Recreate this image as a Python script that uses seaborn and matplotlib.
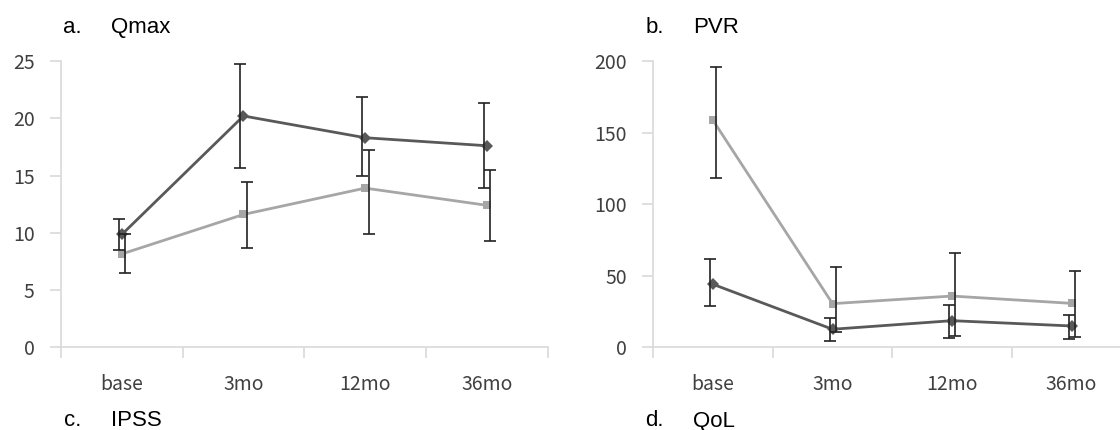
import numpy as np
import pandas as pd
import matplotlib
matplotlib.use("Agg")
import matplotlib.pyplot as plt
import seaborn as sns

# values (mean, minus error, plus error)
timepoints = ["base", "3mo", "12mo", "36mo"]

qmax_dark = [9.85, 20.2, 18.3, 17.6]
qmax_dark_lo = [1.35, 4.55, 3.3, 3.7]
qmax_dark_hi = [1.35, 4.55, 3.6, 3.7]
qmax_gray = [8.15, 11.6, 13.9, 12.4]
qmax_gray_lo = [1.65, 2.95, 4.0, 3.1]
qmax_gray_hi = [1.7, 2.85, 3.35, 3.1]

pvr_dark = [44.0, 12.6, 18.6, 14.9]
pvr_dark_lo = [15.1, 8.0, 11.9, 9.1]
pvr_dark_hi = [17.7, 7.7, 10.9, 7.7]
pvr_gray = [158.5, 30.5, 35.8, 30.7]
pvr_gray_lo = [40.5, 19.6, 27.9, 23.7]
pvr_gray_hi = [37.1, 25.8, 30.2, 22.6]

DARK = "#595959"
LIGHT = "#a6a6a6"
ERR = "#222222"
AXIS = "#d9d9d9"
TXT = "#404040"

sns.set_theme(style="white")
plt.rcParams["font.family"] = ["Noto Sans CJK KR", "DejaVu Sans"]

W, H = 1120, 430
fig = plt.figure(figsize=(W / 100, H / 100), dpi=100)


def px_axes(left, top, right, bottom):
    return fig.add_axes([left / W, (H - bottom) / H, (right - left) / W, (bottom - top) / H])


def draw_panel(ax, dark, dark_lo, dark_hi, gray, gray_lo, gray_hi, ymax, ystep):
    x = np.arange(len(timepoints))
    df = pd.DataFrame({
        "x": np.concatenate([x, x]),
        "value": dark + gray,
        "group": ["dark"] * len(x) + ["gray"] * len(x),
    })
    sns.lineplot(data=df, x="x", y="value", hue="group", style="group",
                 hue_order=["gray", "dark"], style_order=["gray", "dark"],
                 palette={"dark": DARK, "gray": LIGHT},
                 markers={"dark": "D", "gray": "s"}, dashes=False,
                 linewidth=2, markersize=6, markeredgewidth=0,
                 legend=False, ax=ax)
    ax.errorbar(x + 0.028, gray, yerr=[gray_lo, gray_hi], fmt="none",
                ecolor=ERR, elinewidth=1.2, capsize=4.5, capthick=1.2)
    ax.errorbar(x - 0.025, dark, yerr=[dark_lo, dark_hi], fmt="none",
                ecolor=ERR, elinewidth=1.2, capsize=4.5, capthick=1.2)

    ax.set_xlim(-0.5, len(x) - 0.5)
    ax.set_ylim(0, ymax)
    ax.set_yticks(np.arange(0, ymax + 1, ystep))
    ax.set_xticks(np.arange(-0.5, len(x)), labels=[""] * (len(x) + 1))
    ax.set_xticks(x, labels=timepoints, minor=True)
    ax.set_xlabel("")
    ax.set_ylabel("")

    for s in ["top", "right"]:
        ax.spines[s].set_visible(False)
    for s in ["left", "bottom"]:
        ax.spines[s].set_color(AXIS)
        ax.spines[s].set_linewidth(1.2)

    ax.tick_params(axis="both", which="major", direction="out", length=8,
                   width=1.2, color=AXIS, bottom=True, left=True)
    ax.tick_params(axis="x", which="minor", length=0, bottom=True, pad=19,
                   labelsize=14, labelcolor=TXT)
    ax.tick_params(axis="y", which="major", pad=11, labelsize=14, labelcolor=TXT)


ax_a = px_axes(61, 61, 547.6, 347.3)
draw_panel(ax_a, qmax_dark, qmax_dark_lo, qmax_dark_hi,
           qmax_gray, qmax_gray_lo, qmax_gray_hi, 25, 5)

ax_b = px_axes(653.3, 61, 1131.3, 347.3)
draw_panel(ax_b, pvr_dark, pvr_dark_lo, pvr_dark_hi,
           pvr_gray, pvr_gray_lo, pvr_gray_hi, 200, 50)

labels = [
    (62.5, 110.7, 33.3, "a.", "Qmax"),
    (645.7, 692.9, 33.3, "b.", "PVR"),
    (63.6, 111.4, 426.5, "c.", "IPSS"),
    (645.0, 692.9, 426.5, "d.", "QoL"),
]
for x0, x1, yb, letter, name in labels:
    fig.text(x0 / W, (H - yb) / H, letter, fontsize=16, family="Liberation Sans",
             va="baseline", ha="left", color="black")
    fig.text(x1 / W, (H - yb) / H, name, fontsize=16, family="Liberation Sans",
             va="baseline", ha="left", color="black")

fig.savefig("out.png", dpi=100)
